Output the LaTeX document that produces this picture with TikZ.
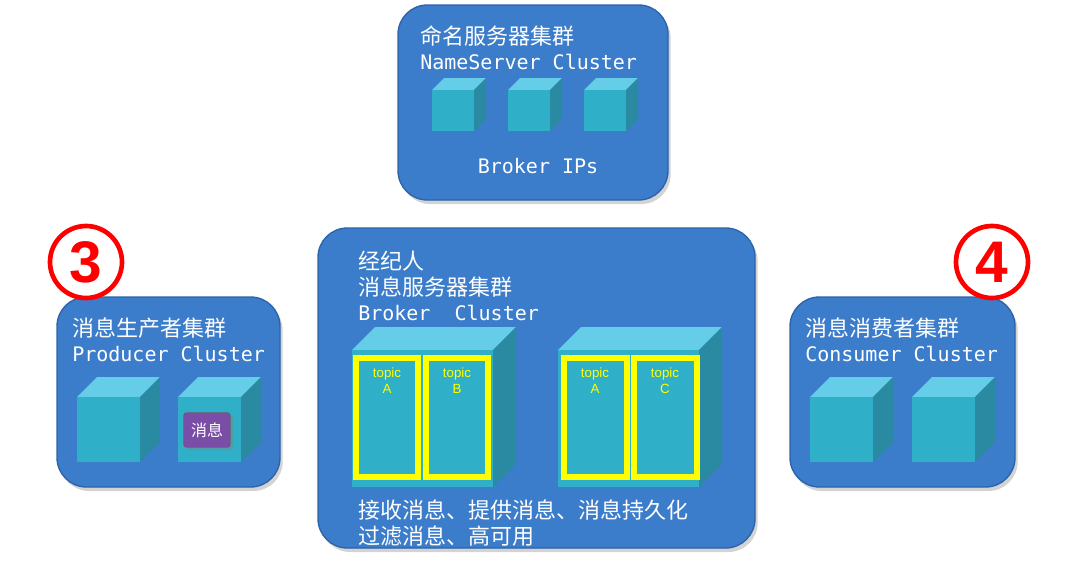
\documentclass[tikz,border=0pt]{standalone}
\usepackage{fontspec}
\newfontfamily\cjk{Noto Sans CJK SC}
\newfontfamily\mono{DejaVu Sans Mono}
\newfontfamily\sans{Liberation Sans}
\usetikzlibrary{shadows}
\definecolor{panel}{HTML}{3B7DCB}
\definecolor{panelb}{HTML}{2C62A8}
\definecolor{cfront}{HTML}{2FAFC8}
\definecolor{ctop}{HTML}{66CDE8}
\definecolor{cside}{HTML}{2A8AA2}
\definecolor{topicy}{HTML}{FFFF00}
\definecolor{msgc}{HTML}{7A4DA6}
\tikzset{
 panelbox/.style={draw=panelb,line width=1pt,fill=panel,rounded corners=22pt,drop shadow={opacity=0.35,shadow xshift=2pt,shadow yshift=-3pt}},
 cjkt/.style={anchor=west,text=white,font=\cjk\fontsize{16.5}{18}\selectfont,inner sep=0pt},
 monot/.style={anchor=west,text=white,font=\mono\fontsize{15}{17}\selectfont,inner sep=0pt},
 topicbox/.style={draw=topicy,line width=4pt},
 topict/.style={text=topicy,font=\sans\fontsize{10}{12}\selectfont,align=center,inner sep=0pt,anchor=north},
 numc/.style={circle,draw=red,line width=3.5pt,fill=white,minimum size=54pt,text=red,font=\sans\bfseries\fontsize{44}{44}\selectfont,inner sep=0pt},
}
\newcommand\mycube[5]{% x y w h d
 \fill[ctop] (#1,#2) -- ++(#5,-#5) -- ++(#3,0) -- ++(-#5,#5) -- cycle;
 \fill[cside] (#1+#3,#2) -- ++(#5,-#5) -- ++(0,#4) -- ++(-#5,#5) -- cycle;
 \fill[cfront] (#1,#2) rectangle ++(#3,#4);
}
\begin{document}
\begin{tikzpicture}[x=0.75pt,y=-0.75pt]
\useasboundingbox (0,0) rectangle (1073,564);
% top panel
\draw[panelbox] (398,5) rectangle (668,200);
\node[cjkt] (t1) at (420,36) {命名服务器集群};
\node[monot] (t2) at (420,62) {NameServer Cluster};
\mycube{432}{90}{42}{41}{12}
\mycube{508}{90}{42}{41}{12}
\mycube{584}{90}{42}{41}{12}
\node[monot,anchor=center] (bips) at (538,166) {Broker IPs};
% middle panel
\draw[panelbox] (318,228) rectangle (755,548);
\node[cjkt] (m1) at (358,261) {经纪人};
\node[cjkt] (m2) at (358,287) {消息服务器集群};
\node[monot] (m3) at (358,313) {Broker\ \ Cluster};
\mycube{352}{350}{141}{137}{23}
\mycube{558}{350}{141}{137}{23}
\draw[topicbox] (356,358) rectangle (418,477);
\draw[topicbox] (426,358) rectangle (488,477);
\draw[topicbox] (564,358) rectangle (627,477);
\draw[topicbox] (634,358) rectangle (697,477);
\node[topict] (ta1) at (387,368) {topic\\A};
\node[topict] (tb) at (457,368) {topic\\B};
\node[topict] (ta2) at (595,368) {topic\\A};
\node[topict] (tc) at (665,368) {topic\\C};
\node[cjkt] (m4) at (358,510) {接收消息、提供消息、消息持久化};
\node[cjkt] (m5) at (358,536) {过滤消息、高可用};
% left panel
\draw[panelbox] (57,297) rectangle (280,487);
\node[cjkt] (p1) at (72,328) {消息生产者集群};
\node[monot] (p2) at (72,354) {Producer Cluster};
\mycube{77}{397}{63}{65}{20}
\mycube{178}{397}{63}{65}{20}
\node[draw=black!60,fill=msgc,rounded corners=2pt,minimum width=35pt,minimum height=26pt,text=white,font=\cjk\fontsize{12}{14}\selectfont,drop shadow={opacity=0.4}] (msg) at (207,430) {消息};
% right panel
\draw[panelbox] (790,297) rectangle (1015,487);
\node[cjkt] (c1) at (805,328) {消息消费者集群};
\node[monot] (c2) at (805,354) {Consumer Cluster};
\mycube{810}{397}{63}{65}{20}
\mycube{912}{397}{63}{65}{20}
% numbers
\node[numc] (n3) at (86,262) {3};
\node[numc] (n4) at (992,262) {4};
\end{tikzpicture}
\end{document}
